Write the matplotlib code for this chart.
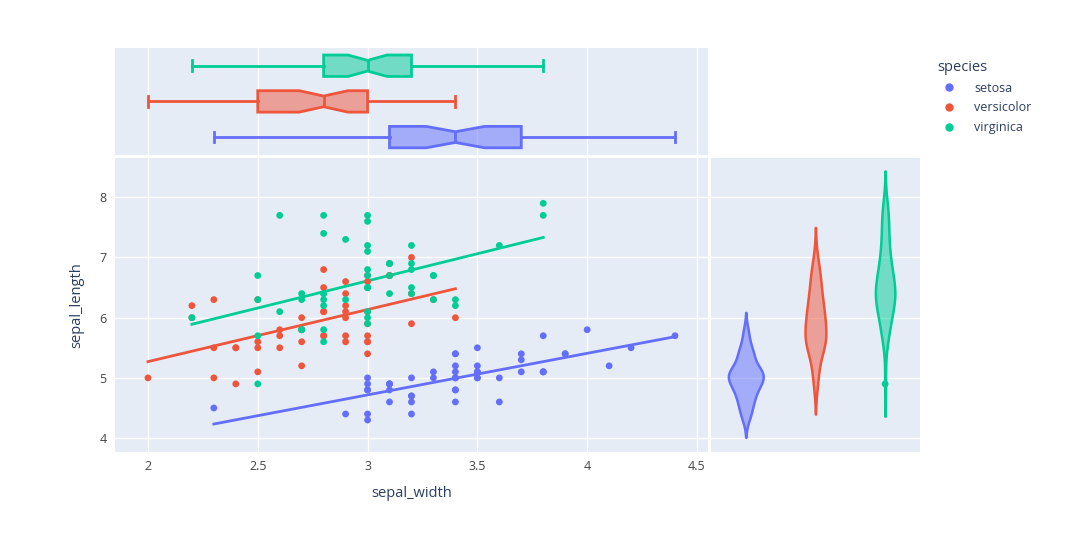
import numpy as np
import matplotlib
matplotlib.use("Agg")
import matplotlib.pyplot as plt
from matplotlib.lines import Line2D
from matplotlib import cbook

# iris data: sepal_width / sepal_length per species
species = ["setosa", "versicolor", "virginica"]
colors = {"setosa": "#636efa", "versicolor": "#EF553B", "virginica": "#00cc96"}

setosa_width = [3.5, 3.0, 3.2, 3.1, 3.6, 3.9, 3.4, 3.4, 2.9, 3.1, 3.7, 3.4, 3.0, 3.0, 4.0, 4.4, 3.9,
                3.5, 3.8, 3.8, 3.4, 3.7, 3.6, 3.3, 3.4, 3.0, 3.4, 3.5, 3.4, 3.2, 3.1, 3.4, 4.1, 4.2,
                3.1, 3.2, 3.5, 3.1, 3.0, 3.4, 3.5, 2.3, 3.2, 3.5, 3.8, 3.0, 3.8, 3.2, 3.7, 3.3]
setosa_length = [5.1, 4.9, 4.7, 4.6, 5.0, 5.4, 4.6, 5.0, 4.4, 4.9, 5.4, 4.8, 4.8, 4.3, 5.8, 5.7, 5.4,
                 5.1, 5.7, 5.1, 5.4, 5.1, 4.6, 5.1, 4.8, 5.0, 5.0, 5.2, 5.2, 4.7, 4.8, 5.4, 5.2, 5.5,
                 4.9, 5.0, 5.5, 4.9, 4.4, 5.1, 5.0, 4.5, 4.4, 5.0, 5.1, 4.8, 5.1, 4.6, 5.3, 5.0]

versicolor_width = [3.2, 3.2, 3.1, 2.3, 2.8, 2.8, 3.3, 2.4, 2.9, 2.7, 2.0, 3.0, 2.2, 2.9, 2.9, 3.1, 3.0,
                    2.7, 2.2, 2.5, 3.2, 2.8, 2.5, 2.8, 2.9, 3.0, 2.8, 3.0, 2.9, 2.6, 2.4, 2.4, 2.7, 2.7,
                    3.0, 3.4, 3.1, 2.3, 3.0, 2.5, 2.6, 3.0, 2.6, 2.3, 2.7, 3.0, 2.9, 2.9, 2.5, 2.8]
versicolor_length = [7.0, 6.4, 6.9, 5.5, 6.5, 5.7, 6.3, 4.9, 6.6, 5.2, 5.0, 5.9, 6.0, 6.1, 5.6, 6.7, 5.6,
                     5.8, 6.2, 5.6, 5.9, 6.1, 6.3, 6.1, 6.4, 6.6, 6.8, 6.7, 6.0, 5.7, 5.5, 5.5, 5.8, 6.0,
                     5.4, 6.0, 6.7, 6.3, 5.6, 5.5, 5.5, 6.1, 5.8, 5.0, 5.6, 5.7, 5.7, 6.2, 5.1, 5.7]

virginica_width = [3.3, 2.7, 3.0, 2.9, 3.0, 3.0, 2.5, 2.9, 2.5, 3.6, 3.2, 2.7, 3.0, 2.5, 2.8, 3.2, 3.0,
                   3.8, 2.6, 2.2, 3.2, 2.8, 2.8, 2.7, 3.3, 3.2, 2.8, 3.0, 2.8, 3.0, 2.8, 3.8, 2.8, 2.8,
                   2.6, 3.0, 3.4, 3.1, 3.0, 3.1, 3.1, 3.1, 2.7, 3.2, 3.3, 3.0, 2.5, 3.0, 3.4, 3.0]
virginica_length = [6.3, 5.8, 7.1, 6.3, 6.5, 7.6, 4.9, 7.3, 6.7, 7.2, 6.5, 6.4, 6.8, 5.7, 5.8, 6.4, 6.5,
                    7.7, 7.7, 6.0, 6.9, 5.6, 7.7, 6.3, 6.7, 7.2, 6.2, 6.1, 6.4, 7.2, 7.4, 7.9, 6.4, 6.3,
                    6.1, 7.7, 6.3, 6.4, 6.0, 6.9, 6.7, 6.9, 5.8, 6.8, 6.7, 6.7, 6.3, 6.5, 6.2, 5.9]

widths = {"setosa": setosa_width, "versicolor": versicolor_width, "virginica": virginica_width}
lengths = {"setosa": setosa_length, "versicolor": versicolor_length, "virginica": virginica_length}

BG = "#E5ECF6"
TXT = "#2a3f5f"
plt.rcParams["font.family"] = ["Open Sans", "DejaVu Sans"]

fig = plt.figure(figsize=(10.8, 5.38), dpi=100)
ax = fig.add_axes([0.1065, 0.160, 0.549, 0.546])
ax_top = fig.add_axes([0.1065, 0.712, 0.549, 0.199], sharex=ax)
ax_right = fig.add_axes([0.6583, 0.160, 0.1935, 0.546], sharey=ax)

for a in (ax, ax_top, ax_right):
    a.set_facecolor(BG)
    for s in a.spines.values():
        s.set_visible(False)
    a.tick_params(length=0, colors="#444444", labelsize=9, pad=6)
    a.set_axisbelow(True)

# main scatter + OLS trendlines
for sp in species:
    x = np.array(widths[sp])
    y = np.array(lengths[sp])
    ax.scatter(x, y, s=24, color=colors[sp], edgecolors="none", zorder=3)
    k, b = np.polyfit(x, y, 1)
    xs = np.array([x.min(), x.max()])
    ax.plot(xs, k * xs + b, color=colors[sp], lw=2, zorder=2)

ax.set_xlim(1.85, 4.55)
ax.set_ylim(3.77, 8.65)
ax.set_xticks([2, 2.5, 3, 3.5, 4, 4.5])
ax.set_xticklabels(["2", "2.5", "3", "3.5", "4", "4.5"])
ax.set_yticks([4, 5, 6, 7, 8])
ax.grid(True, color="white", lw=1)
ax.set_xlabel("sepal_width", fontsize=10.5, color=TXT, labelpad=9)
ax.set_ylabel("sepal_length", fontsize=10.5, color=TXT, labelpad=11)

# top marginal: notched boxes
stats = []
for sp in species:
    d = np.array(widths[sp])
    st = cbook.boxplot_stats(d)[0]
    q1, med, q3 = np.percentile(d, [25, 50, 75], method="weibull")
    iqr = q3 - q1
    st["q1"], st["med"], st["q3"] = q1, med, q3
    st["whislo"] = d[d >= q1 - 1.5 * iqr].min()
    st["whishi"] = d[d <= q3 + 1.5 * iqr].max()
    st["cilo"] = med - 1.57 * iqr / np.sqrt(len(d))
    st["cihi"] = med + 1.57 * iqr / np.sqrt(len(d))
    st["fliers"] = d[(d < st["whislo"]) | (d > st["whishi"])]
    stats.append(st)

bp = ax_top.bxp(stats, positions=[0, 1, 2], widths=0.6, orientation="horizontal",
                shownotches=True, patch_artist=True, capwidths=0.3)
for i, sp in enumerate(species):
    c = colors[sp]
    bp["boxes"][i].set(facecolor=matplotlib.colors.to_rgba(c, 0.5), edgecolor=c, lw=2)
    bp["medians"][i].set(color=c, lw=2)
    for w in bp["whiskers"][2 * i:2 * i + 2] + bp["caps"][2 * i:2 * i + 2]:
        w.set(color=c, lw=2)
ax_top.set_ylim(-0.5, 2.5)
ax_top.set_yticks([])
ax_top.tick_params(labelbottom=False)
ax_top.grid(True, axis="x", color="white", lw=1)

# right marginal: violins (silverman bandwidth, soft span, common width scale)
kdes = []
for sp in species:
    d = np.array(lengths[sp])
    n = len(d)
    q1, q3 = np.percentile(d, [25, 75], method="weibull")
    bw = 1.059 * min(d.std(ddof=1), (q3 - q1) / 1.349) * n ** (-0.2)
    ys = np.linspace(d.min() - 2 * bw, d.max() + 2 * bw, 200)
    dens = np.exp(-0.5 * ((ys[:, None] - d[None, :]) / bw) ** 2).sum(axis=1) / (n * bw * np.sqrt(2 * np.pi))
    kdes.append((ys, dens, d, q1, q3))
dmax = max(k[1].max() for k in kdes)
for i, sp in enumerate(species):
    ys, dens, d, q1, q3 = kdes[i]
    half = dens / dmax * 0.25
    c = colors[sp]
    ax_right.fill_betweenx(ys, i - half, i + half, facecolor=matplotlib.colors.to_rgba(c, 0.5),
                           edgecolor=c, lw=1.8, zorder=3)
    iqr = q3 - q1
    out = d[(d < q1 - 1.5 * iqr) | (d > q3 + 1.5 * iqr)]
    ax_right.scatter(np.full(len(out), i), out, s=24, color=c, edgecolors="none", zorder=4)
ax_right.set_xlim(-0.5, 2.5)
ax_right.set_xticks([])
ax_right.tick_params(labelleft=False)
ax_right.grid(True, axis="y", color="white", lw=1)

# legend
handles = [Line2D([], [], ls="none", marker="o", ms=5, color=colors[sp]) for sp in species]
leg = fig.legend(handles, species, title="species", loc="upper left",
                 bbox_to_anchor=(0.857, 0.91), frameon=False, fontsize=9,
                 title_fontsize=10.5, handletextpad=1.0, labelspacing=0.55)
leg._legend_box.align = "left"
for t in leg.get_texts():
    t.set_color(TXT)
leg.get_title().set_color(TXT)

fig.savefig("out.png", dpi=100)
